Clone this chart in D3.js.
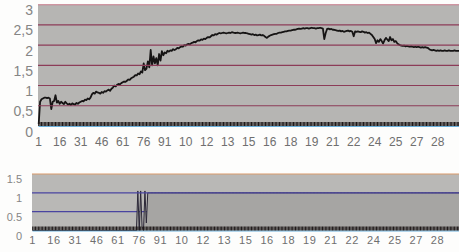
<!DOCTYPE html>
<html>
<head>
<meta charset="utf-8">
<script src="https://cdn.jsdelivr.net/npm/d3@7"></script>
<style>
  body { margin: 0; background: #fdfdfc; }
  svg { display: block; font-family: "Liberation Sans", Arial, sans-serif; }
</style>
</head>
<body>
<svg id="chart"></svg>
<script>
var screen = {width: 459, height: 252}

// top series, one value per sample
var topValues = [
  0.05, 0.6, 0.66, 0.68, 0.7, 0.7, 0.69, 0.7, 0.68, 0.42,
  0.6, 0.62, 0.76, 0.58, 0.62, 0.55, 0.6, 0.57, 0.54, 0.6,
  0.56, 0.53, 0.55, 0.52, 0.56, 0.54, 0.53, 0.57, 0.55, 0.58,
  0.6, 0.62, 0.61, 0.65, 0.64, 0.68, 0.66, 0.7, 0.78, 0.82,
  0.8, 0.85, 0.83, 0.82, 0.8, 0.84, 0.82, 0.86, 0.85, 0.88,
  0.9, 0.87, 0.92, 0.95, 1.0, 0.98, 1.02, 1.04, 1.03, 1.06,
  1.08, 1.1, 1.09, 1.12, 1.15, 1.14, 1.18, 1.2, 1.22, 1.26,
  1.25, 1.3, 1.28, 1.35, 1.32, 1.55, 1.38, 1.42, 1.6, 1.45,
  1.88, 1.5, 1.72, 1.55, 1.68, 1.5, 1.78, 1.62, 1.85, 1.75,
  1.82, 1.8, 1.86, 1.84, 1.87, 1.86, 1.9, 1.88, 1.9, 1.93,
  1.92, 1.95, 1.97, 1.96, 2.0, 1.99, 2.02, 2.03, 2.02, 2.05,
  2.06, 2.08, 2.07, 2.1, 2.12, 2.11, 2.14, 2.13, 2.16, 2.15,
  2.18, 2.2, 2.19, 2.22, 2.25, 2.24, 2.27, 2.26, 2.28, 2.3,
  2.29,
  // 132-150
  2.3, 2.31, 2.3, 2.29, 2.3, 2.31, 2.3, 2.32, 2.31, 2.3,
  2.3, 2.31, 2.3, 2.29, 2.3, 2.31, 2.3, 2.3, 2.29,
  // 151-167
  2.28, 2.27, 2.26, 2.27, 2.25, 2.26, 2.24, 2.25, 2.26, 2.24,
  2.25, 2.23, 2.2, 2.18, 2.21, 2.23, 2.25,
  // 168-185
  2.26, 2.27, 2.28, 2.28, 2.3, 2.31, 2.31, 2.32, 2.33, 2.34,
  2.34, 2.35, 2.36, 2.36, 2.37, 2.38, 2.38, 2.39,
  // 186-204
  2.4, 2.41, 2.4, 2.41, 2.42, 2.41, 2.42, 2.42, 2.41, 2.42,
  2.43, 2.42, 2.42, 2.41, 2.42, 2.42, 2.43, 2.42, 2.41,
  // 205-213
  2.15, 2.3, 2.4, 2.41, 2.39, 2.4, 2.38, 2.38, 2.37,
  // 214-227
  2.36, 2.35, 2.36, 2.34, 2.35, 2.33, 2.34, 2.35, 2.36, 2.34,
  2.35, 2.33, 2.22, 2.34,
  // 228-238
  2.33, 2.34, 2.33, 2.32, 2.34, 2.33, 2.31, 2.32, 2.3, 2.31, 2.28,
  // 239-258
  2.25, 2.2, 2.15, 2.05, 2.12, 2.08, 2.15, 2.1, 2.04, 2.12,
  2.18, 2.14, 2.1, 2.2, 2.12, 2.15, 2.08, 2.1, 2.05, 2.02,
  // 259-279
  2.0, 1.99, 1.98, 1.99, 1.97, 1.98, 1.97, 1.96, 1.97, 1.96,
  1.95, 1.96, 1.95, 1.96, 1.95, 1.94, 1.95, 1.94, 1.95, 1.94, 1.93,
  // 280-302
  1.9, 1.88, 1.87, 1.88, 1.87, 1.86, 1.87, 1.86, 1.87, 1.86,
  1.86, 1.87, 1.86, 1.86, 1.87, 1.86, 1.86, 1.86, 1.87, 1.86,
  1.86, 1.86, 1.86
]

// bottom series: flat, a few jumps around sample 75-82, then ~1
var bottomJumpStart = 75
var bottomJump = [1.05, 0, 1.05, 0.1, 0, 1.05, 0.2, 1.0]
var bottomValues = []
topValues.forEach(function(v, i) {
  var n = i + 1
  if (n < bottomJumpStart) bottomValues.push(0)
  else if (n < bottomJumpStart + bottomJump.length) bottomValues.push(bottomJump[n - bottomJumpStart])
  else bottomValues.push(1.0)
})

var categories = d3.range(1, topValues.length + 1)

// x tick labels (Excel cut them to two characters)
var xTickCats = [1, 16, 31, 46, 61, 76, 91, 106, 121, 136, 151, 166, 181, 196, 211, 226, 241, 256, 271, 286]
var xTickLabels = ["1", "16", "31", "46", "61", "76", "91", "10", "12", "13", "15", "16", "18", "19", "21", "22", "24", "25", "27", "28"]

var topYTicks = [0, 0.5, 1, 1.5, 2, 2.5, 3]
var topYLabels = ["0", "0,5", "1", "1,5", "2", "2,5", "3"]
var bottomYTicks = [0, 0.5, 1, 1.5]
var bottomYLabels = ["0", "0.5", "1", "1.5"]

var svg = d3.select("#chart")
  .attr("width", screen.width)
  .attr("height", screen.height)

var drawPanel = function(cfg)
{
  var xScale = d3.scaleBand()
    .domain(categories)
    .range([cfg.left, cfg.right])
  var yScale = d3.scaleLinear()
    .domain(cfg.yDomain)
    .range([cfg.bottom, cfg.top])
  var cx = function(c) { return xScale(c) + xScale.bandwidth() / 2 }

  var g = svg.append("g")

  // plot background
  g.append("rect")
    .attr("x", cfg.left)
    .attr("y", cfg.top)
    .attr("width", cfg.right - cfg.left)
    .attr("height", cfg.bottom - cfg.top)
    .attr("fill", cfg.bg)

  // grid lines that sit under the series
  g.selectAll(".gridUnder")
    .data(cfg.yTicks.filter(function(t) { return cfg.under.indexOf(t) >= 0 }))
    .enter()
    .append("line")
    .attr("x1", cfg.left).attr("x2", cfg.right)
    .attr("y1", function(t) { return yScale(t) })
    .attr("y2", function(t) { return yScale(t) })
    .attr("stroke", cfg.gridColor)
    .attr("stroke-width", 1.1)

  if (cfg.area) {
    var area = d3.area()
      .x(function(d, i) { return cx(categories[i]) })
      .y0(yScale(0))
      .y1(function(d) { return yScale(d) })
    g.append("path")
      .datum(cfg.values)
      .attr("d", area)
      .attr("fill", cfg.areaColor)
  }

  var line = d3.line()
    .x(function(d, i) { return cx(categories[i]) })
    .y(function(d) { return yScale(d) })
  g.append("path")
    .datum(cfg.values)
    .attr("d", line)
    .attr("fill", "none")
    .attr("stroke", cfg.lineColor)
    .attr("stroke-width", cfg.lineWidth)
    .attr("stroke-linejoin", "round")

  // grid lines drawn over the series
  g.selectAll(".gridOver")
    .data(cfg.yTicks.filter(function(t) { return t > 0 && cfg.under.indexOf(t) < 0 }))
    .enter()
    .append("line")
    .attr("x1", cfg.left).attr("x2", cfg.right)
    .attr("y1", function(t) { return yScale(t) })
    .attr("y2", function(t) { return yScale(t) })
    .attr("stroke", function(t) { return t == cfg.yDomain[1] ? cfg.topColor : cfg.gridColor })
    .attr("stroke-width", 1.1)

  // dense tick row, one tick per sample
  var tickAxis = d3.axisBottom(xScale)
    .tickValues(categories)
    .tickSizeInner(-4)
    .tickSizeOuter(0)
    .tickFormat("")
  var ta = g.append("g")
    .attr("transform", "translate(0," + cfg.bottom + ")")
    .call(tickAxis)
  ta.select(".domain").attr("stroke", "#6ab0dc").attr("stroke-width", 1)
  ta.selectAll(".tick line").attr("stroke", "#1e1818").attr("stroke-width", 1)

  // category labels
  var labelAxis = d3.axisBottom(xScale)
    .tickValues(xTickCats)
    .tickSize(0)
    .tickPadding(0)
    .tickFormat(function(c) { return xTickLabels[xTickCats.indexOf(c)] })
  var la = g.append("g")
    .attr("transform", "translate(0," + cfg.bottom + ")")
    .call(labelAxis)
  la.select(".domain").remove()
  la.selectAll("text")
    .attr("dy", null)
    .attr("y", cfg.xLabelY)
    .attr("fill", "#6f6f6f")
    .style("font-size", cfg.xFont + "px")
    .style("font-family", "Liberation Sans, Arial, sans-serif")
    .style("letter-spacing", cfg.xSpacing + "px")

  // value labels
  g.selectAll(".ylab")
    .data(cfg.yTicks)
    .enter()
    .append("text")
    .attr("x", cfg.yLabelX)
    .attr("y", function(t) { return yScale(t) + cfg.yLabelDy })
    .attr("text-anchor", "end")
    .attr("fill", "#858585")
    .style("font-size", cfg.yFont + "px")
    .text(function(t, i) { return cfg.yLabels[i] })
}

drawPanel({
  left: 38, right: 38 + topValues.length * 1.4, top: 4.7, bottom: 126,
  yDomain: [0, 3], yTicks: topYTicks, yLabels: topYLabels,
  values: topValues, under: [],
  bg: "#b6b5b3", gridColor: "#8c3c58", topColor: "#c77a8a",
  lineColor: "#161414", lineWidth: 1.8,
  xLabelY: 20, xFont: 12, xSpacing: 0,
  yLabelX: 33, yLabelDy: 10.5, yFont: 14
})

drawPanel({
  left: 32, right: 461, top: 174, bottom: 230.5,
  yDomain: [0, 1.5], yTicks: bottomYTicks, yLabels: bottomYLabels,
  values: bottomValues, under: [0.5], area: true, areaColor: "#a6a5a3",
  bg: "#b9b8b6", gridColor: "#4a44a0", topColor: "#d99a6a",
  lineColor: "#2c2838", lineWidth: 1,
  xLabelY: 13.5, xFont: 11, xSpacing: 0.6,
  yLabelX: 22, yLabelDy: 9, yFont: 11
})
</script>
</body>
</html>
